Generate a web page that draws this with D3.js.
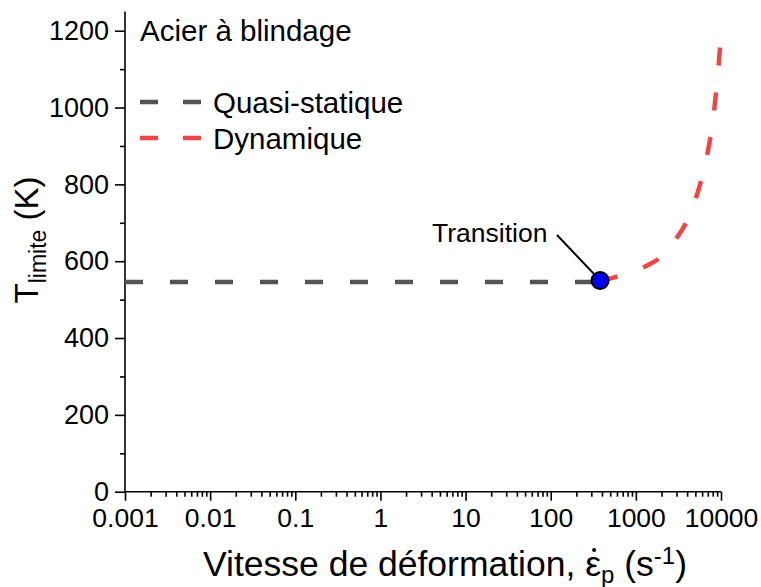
<!DOCTYPE html>
<html><head><meta charset="utf-8">
<script src="https://cdn.jsdelivr.net/npm/d3@7"></script>
<style>body{margin:0;background:#fff}svg{display:block}text{font-family:"Liberation Sans",Arial,sans-serif;fill:#000}</style>
</head><body>
<svg id="c" width="761" height="587"></svg>
<script>
// Data
const xTickValues = [0.001, 0.01, 0.1, 1, 10, 100, 1000, 10000];
const xTickLabels = ["0.001", "0.01", "0.1", "1", "10", "100", "1000", "10000"];
const yTickValues = [0, 200, 400, 600, 800, 1000, 1200];
const quasiRate = [0.001, 380];
const quasiT = [546, 546];
const dynRate = [380, 600, 1000, 1500, 2000, 3000, 4000, 5000, 6000, 7000, 8000, 9000, 10000];
const dynT = [548, 560, 575, 594, 612, 660, 705, 760, 820, 885, 965, 1065, 1190];
const transitionPoint = {rate: 380, T: 550, label: "Transition"};
const seriesNames = ["Quasi-statique", "Dynamique"];
const panelTitle = "Acier à blindage";

const svg = d3.select("#c");
const x = d3.scaleLog().domain([0.001, 10000]).range([125, 721]);
const y = d3.scaleLinear().domain([0, 1250]).range([491.7, 11.5]);
const gray = "#555555", red = "#f04545";
const dash = "18,27";

// Y axis
const yAxis = d3.axisLeft(y).tickValues(yTickValues).tickSize(10).tickPadding(6).tickFormat(d3.format("d"));
const gy = svg.append("g").attr("transform", "translate(125,0)").call(yAxis);
gy.selectAll("text").style("font-size", "27px");
const yMinor = d3.axisLeft(y).tickValues(d3.range(100, 1250, 200)).tickSize(5).tickFormat("");
svg.append("g").attr("transform", "translate(125,0)").call(yMinor).select(".domain").remove();

// X axis
const xAxis = d3.axisBottom(x).tickValues(xTickValues).tickSize(9).tickPadding(7)
  .tickFormat((d, i) => xTickLabels[i]);
const gx = svg.append("g").attr("transform", "translate(0,491.7)").call(xAxis);
gx.selectAll("text").style("font-size", "26.5px");
const minorVals = [];
for (let e = -3; e < 4; e++) for (let m = 2; m <= 9; m++) minorVals.push(m * Math.pow(10, e));
const xMinor = d3.axisBottom(x).tickValues(minorVals).tickSize(5).tickFormat("");
svg.append("g").attr("transform", "translate(0,491.7)").call(xMinor).select(".domain").remove();
svg.selectAll(".domain, .tick line").attr("stroke", "#000").attr("stroke-width", 1.6);
gx.select(".domain").attr("d", `M125,0H721`);
gy.select(".domain").attr("d", `M0,${y(0)}V${y(1250)}`);

// Lines
const line = d3.line().x(d => x(d[0])).y(d => y(d[1])).curve(d3.curveCatmullRom.alpha(0.5));
svg.append("path").datum(quasiRate.map((r, i) => [r, quasiT[i]]))
  .attr("d", line).attr("fill", "none").attr("stroke", gray).attr("stroke-width", 4.5).attr("stroke-dasharray", dash);
svg.append("path").datum(dynRate.map((r, i) => [r, dynT[i]]))
  .attr("d", line).attr("fill", "none").attr("stroke", red).attr("stroke-width", 4.5).attr("stroke-dasharray", dash);

// Annotation
const px = x(transitionPoint.rate), py = y(transitionPoint.T);
svg.append("line").attr("x1", 557).attr("y1", 235).attr("x2", px).attr("y2", py).attr("stroke", "#000").attr("stroke-width", 2);
svg.append("circle").attr("cx", px).attr("cy", py).attr("r", 8.5).attr("fill", "#0000ff").attr("stroke", "#000").attr("stroke-width", 2);
svg.append("text").attr("x", 432).attr("y", 242).style("font-size", "26.5px").text(transitionPoint.label);

// Legend
svg.append("text").attr("x", 140).attr("y", 41).style("font-size", "29.5px").text(panelTitle);
[[gray, 102], [red, 138]].forEach(([c, ly], i) => {
  svg.append("line").attr("x1", 140).attr("x2", 203).attr("y1", ly).attr("y2", ly)
    .attr("stroke", c).attr("stroke-width", 4.5).attr("stroke-dasharray", "18,25");
  svg.append("text").attr("x", 213).attr("y", ly + 10.5).style("font-size", "29.5px").text(seriesNames[i]);
});

// Y title
const yt = svg.append("text").attr("transform", "translate(38,240) rotate(-90)").attr("text-anchor", "middle").style("font-size", "33px");
yt.append("tspan").text("T");
yt.append("tspan").attr("dy", 8).style("font-size", "23px").text("limite");
yt.append("tspan").attr("dy", -8).text(" (K)");

// X title
const xt = svg.append("text").attr("x", 445).attr("y", 576).attr("text-anchor", "middle").style("font-size", "35.5px");
xt.append("tspan").text("Vitesse de déformation, ");
const eps = xt.append("tspan").text("ε");
xt.append("tspan").attr("dy", 7).style("font-size", "24px").text("p");
xt.append("tspan").attr("dy", -7).text(" (s");
xt.append("tspan").attr("dy", -12).style("font-size", "24px").text("-1");
xt.append("tspan").attr("dy", 12).text(")");
const idx = "Vitesse de déformation, ".length;
const ext = xt.node().getExtentOfChar(idx);
svg.append("circle").attr("cx", ext.x + ext.width / 2 + 1).attr("cy", ext.y + 6).attr("r", 2).attr("fill", "#000");
</script>
</body></html>
